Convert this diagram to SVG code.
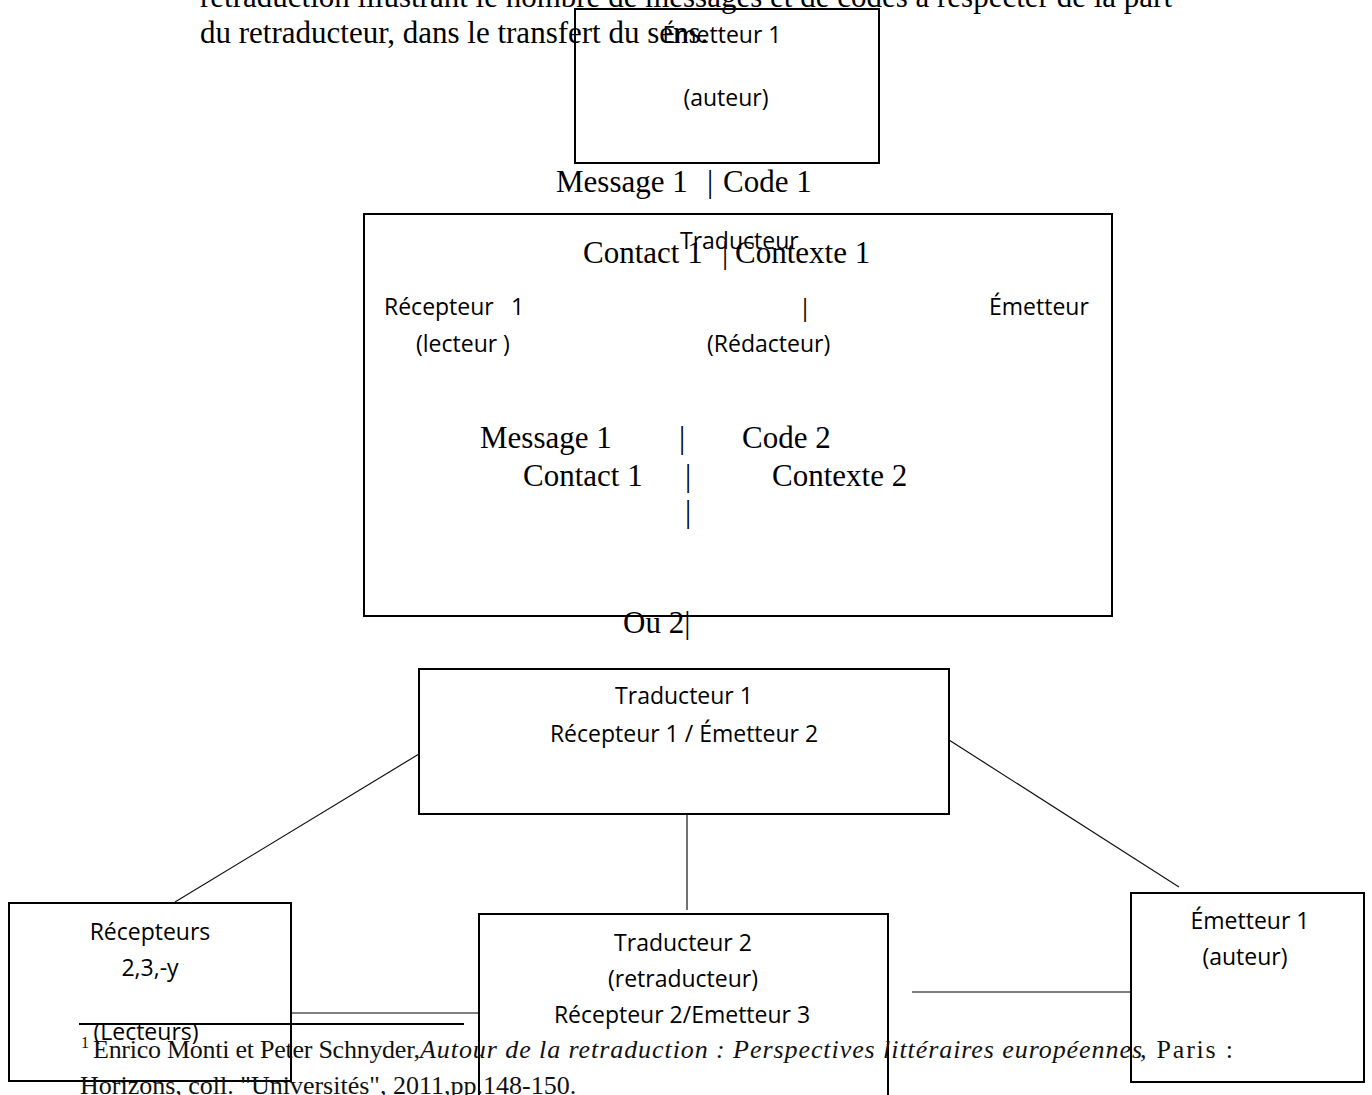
<svg xmlns="http://www.w3.org/2000/svg" width="1372" height="1095" viewBox="0 0 1372 1095">
<style>
.bg{fill:#fff}
.box{fill:none;stroke:#000;stroke-width:2}
.ser{font-family:"Liberation Serif","Times New Roman",serif;font-size:31px;fill:#000}
.fn{font-family:"Liberation Serif","Times New Roman",serif;font-size:26px;fill:#111}
.it{font-style:italic}
.sans{font-family:"Open Sans","Noto Sans",sans-serif;font-size:23px;fill:#000}
.mid{text-anchor:middle}
.con{stroke:#111;stroke-width:1.2;fill:none}
.con2{stroke:#555;stroke-width:1.6;fill:none}
.sep{stroke:#000;stroke-width:2}
</style>
<rect class="bg" x="0" y="0" width="1372" height="1095"/>

<g id="body-text">
<text class="ser" x="200" y="7" textLength="972" lengthAdjust="spacing">retraduction illustrant le nombre de messages et de codes à respecter de la part</text>
<text class="ser" x="200" y="43">du retraducteur, dans le transfert du sens.</text>
</g>

<g id="connectors">
<line class="con" x1="419" y1="754" x2="175" y2="902"/>
<line class="con" x1="949" y1="740" x2="1179" y2="887"/>
<line class="con" x1="687" y1="814" x2="687" y2="910"/>
<line class="con2" x1="291" y1="1013" x2="479" y2="1013"/>
<line class="con2" x1="912" y1="992" x2="1131" y2="992"/>
</g>

<g id="node-emetteur-top">
<rect class="box" x="575" y="9" width="304" height="154"/>
<text class="sans mid" x="722" y="43">Émetteur 1</text>
<text class="sans mid" x="726" y="106">(auteur)</text>
</g>

<g id="label-message-code1">
<text class="ser" x="556" y="192">Message 1</text>
<text class="ser" x="707" y="192">|</text>
<text class="ser" x="723" y="192">Code 1</text>
</g>

<g id="node-traducteur-big">
<rect class="box" x="364" y="214" width="748" height="402"/>
<text class="ser" x="583" y="263">Contact 1</text>
<text class="ser" x="722" y="263">|</text>
<text class="ser" x="735" y="263">Contexte 1</text>
<text class="sans" x="680" y="249">Traducteur</text>
<text class="sans" x="384" y="315">Récepteur</text>
<text class="sans" x="511" y="315">1</text>
<text class="sans mid" x="805" y="316">|</text>
<text class="sans" x="989" y="315">Émetteur</text>
<text class="sans" x="416" y="352">(lecteur )</text>
<text class="sans" x="707" y="352">(Rédacteur)</text>
<text class="ser" x="480" y="448">Message 1</text>
<text class="ser" x="679" y="448">|</text>
<text class="ser" x="742" y="448">Code 2</text>
<text class="ser" x="523" y="486">Contact 1</text>
<text class="ser" x="685" y="486">|</text>
<text class="ser" x="772" y="486">Contexte 2</text>
<text class="ser" x="685" y="522">|</text>
</g>

<g id="label-ou2">
<text class="ser" x="623" y="633">Ou 2|</text>
</g>

<g id="node-traducteur1">
<rect class="box" x="419" y="669" width="530" height="145"/>
<text class="sans mid" x="684" y="704">Traducteur 1</text>
<text class="sans mid" x="684" y="742">Récepteur 1 / Émetteur 2</text>
</g>

<g id="node-recepteurs">
<rect class="box" x="9" y="903" width="282" height="178"/>
<text class="sans mid" x="150" y="940">Récepteurs</text>
<text class="sans mid" x="150" y="976">2,3,-y</text>
<text class="sans mid" x="146" y="1040">(Lecteurs)</text>
</g>

<g id="node-traducteur2">
<rect class="box" x="479" y="914" width="409" height="200"/>
<text class="sans mid" x="683" y="951">Traducteur 2</text>
<text class="sans mid" x="683" y="987">(retraducteur)</text>
<text class="sans mid" x="682" y="1023">Récepteur 2/Emetteur 3</text>
</g>

<g id="node-emetteur1">
<rect class="box" x="1131" y="893" width="233" height="189"/>
<text class="sans mid" x="1250" y="929">Émetteur 1</text>
<text class="sans mid" x="1245" y="965">(auteur)</text>
</g>

<g id="footnote">
<line class="sep" x1="79" y1="1024" x2="464" y2="1024"/>
<text class="fn" x="81" y="1048" style="font-size:16px">1</text>
<text class="fn" x="93" y="1058" textLength="327" lengthAdjust="spacing">Enrico Monti et Peter Schnyder,</text>
<text class="fn it" x="420" y="1058" textLength="722" lengthAdjust="spacing">Autour de la retraduction : Perspectives littéraires européennes</text>
<text class="fn" x="1140" y="1058" textLength="93" lengthAdjust="spacing">, Paris :</text>
<text class="fn" x="80" y="1094">Horizons, coll. "Universités", 2011,pp.148-150.</text>
</g>
</svg>
